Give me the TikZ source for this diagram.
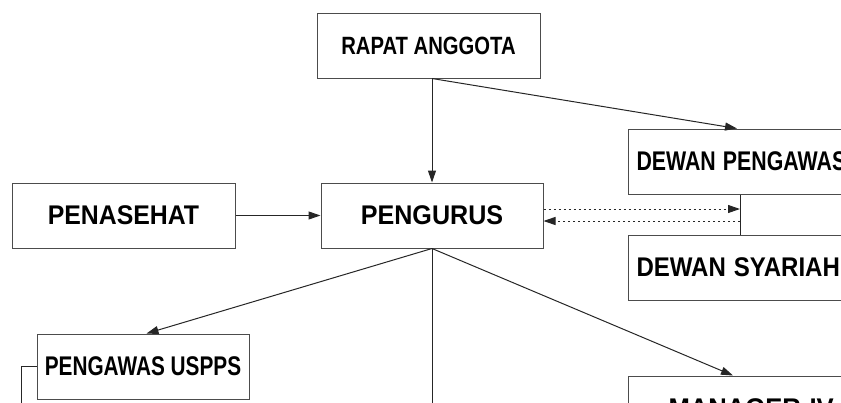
\documentclass[tikz,border=0pt]{standalone}
\usepackage{fontspec}
\setmainfont{Liberation Sans}
\usetikzlibrary{arrows.meta,calc}
\newcommand{\sq}[2]{\scalebox{#1}[1]{#2}}
\begin{document}
\begin{tikzpicture}[x=1pt,y=-1pt,
  box/.style={draw=black!70, line width=1pt, minimum height=65pt, inner sep=0pt,
    font=\bfseries\fontsize{27}{30}\selectfont, text=black},
  conn/.style={draw=black!85, line width=1pt},
  arr/.style={conn, -{Triangle[length=12pt,width=8pt]}},
  dots/.style={arr, dash pattern=on 2.5pt off 2.5pt}
]
\useasboundingbox (0,0) rectangle (841,402);
\clip (0,0) rectangle (841,402);

\node[box, minimum width=223pt, font=\bfseries\fontsize{25}{28}\selectfont] (ra) at (428.5,45.5) {\sq{0.81}{RAPAT ANGGOTA}};
\node[box, minimum width=222pt] (pg) at (432,215.5) {\sq{0.93}{PENGURUS}};
\node[box, minimum width=223pt] (pn) at (123.5,215.5) {\sq{0.92}{PENASEHAT}};
\node[box, minimum width=212pt] (pu) at (143,366.5) {\sq{0.77}{PENGAWAS USPPS}};
\node[box, anchor=west, text width=240pt, align=left, inner xsep=8pt] (dp) at (628,161.5) {\sq{0.79}{DEWAN PENGAWAS}};
\node[box, anchor=west, text width=240pt, align=left, inner xsep=8pt] (ds) at (628,267.5) {\sq{0.89}{DEWAN SYARIAH}};
\node[box, anchor=west, text width=230pt, align=left, inner xsep=40pt] (mg) at (628,408.5) {\sq{0.95}{MANAGER IV}};

\coordinate (top) at (pg.north |- ra.south);
\draw[arr] (top) -- (pg.north);
\draw[arr] (top) -- ($(dp.north west)+(109,0)$);
\draw[arr] (pn) -- (pg);

\coordinate (jx) at ($(dp.south west)+(112,0)$);
\draw[conn] (jx) -- (jx |- ds.north);
\coordinate (d1) at ($(pg.east)+(0,-6.5)$);
\coordinate (d2) at ($(pg.east)+(0,5.5)$);
\draw[dots] (d1) -- (d1 -| jx);
\draw[dots] (d2 -| jx) -- (d2);

\draw[arr] (pg.south) -- ($(pu.north west)+(110,0)$);
\draw[arr] (pg.south) -- ($(mg.north west)+(105,0)$);
\draw[conn] (pg.south) -- ++(0,170);
\draw[conn] (pu.west) -- ++(-15,0) -- ++(0,50);
\end{tikzpicture}
\end{document}
